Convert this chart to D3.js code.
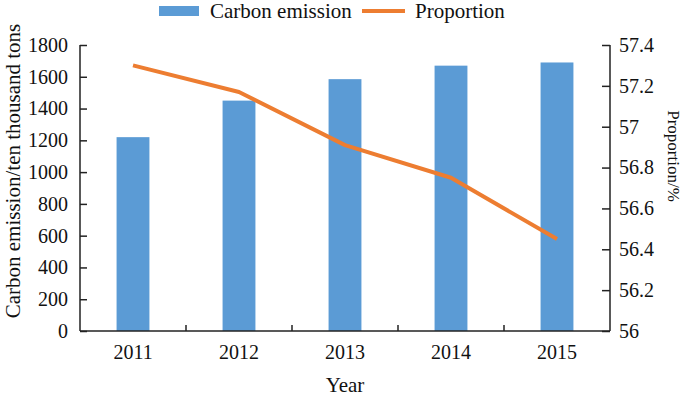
<!DOCTYPE html>
<html><head><meta charset="utf-8">
<script src="https://cdn.jsdelivr.net/npm/d3@7"></script>
<style>body{margin:0;background:#fff}text{font-family:"Liberation Serif","Times New Roman",serif;fill:#111}</style>
</head><body><svg id="c" width="685" height="396"></svg>
<script>
const years = ["2011","2012","2013","2014","2015"];
const emission = [1220, 1450, 1585, 1670, 1690];
const proportion = [57.30, 57.17, 56.91, 56.75, 56.45];
const leftTicks = [0,200,400,600,800,1000,1200,1400,1600,1800];
const rightTicks = [56,56.2,56.4,56.6,56.8,57,57.2,57.4];

const svg = d3.select("#c");
const L = 80, R = 610, T = 45, B = 331;
const x = d3.scaleBand().domain(years).range([L, R]).paddingInner(0.69).paddingOuter(0.345);
const xb = d3.scaleBand().domain(years).range([L, R]);
const y = d3.scaleLinear().domain([0,1800]).range([B, T]);
const y2 = d3.scaleLinear().domain([56,57.4]).range([B, T]);

svg.selectAll("rect.bar").data(emission).join("rect").attr("class","bar")
  .attr("x",(d,i)=>x(years[i])).attr("width",x.bandwidth())
  .attr("y",d=>y(d)).attr("height",d=>B-y(d)).attr("fill","#5B9BD5");

const line = d3.line().x((d,i)=>xb(years[i])+xb.bandwidth()/2).y(d=>y2(d));
svg.append("path").datum(proportion).attr("d",line).attr("fill","none")
  .attr("stroke","#ED7D31").attr("stroke-width",4).attr("stroke-linejoin","round");

const fs = 20;
const gl = svg.append("g").attr("transform",`translate(${L},0)`)
  .call(d3.axisLeft(y).tickValues(leftTicks).tickSize(-7).tickPadding(12).tickFormat(d3.format("d")));
const gr = svg.append("g").attr("transform",`translate(${R},0)`)
  .call(d3.axisRight(y2).tickValues(rightTicks).tickSize(-8).tickPadding(9).tickFormat(d=>String(+d.toFixed(1))));
const gb = svg.append("g").attr("transform",`translate(0,${B})`)
  .call(d3.axisBottom(xb).tickSize(0).tickPadding(14));
svg.selectAll("line.bt").data(years.slice(1)).join("line").attr("class","bt")
  .attr("x1",d=>xb(d)).attr("x2",d=>xb(d)).attr("y1",B).attr("y2",B-6)
  .attr("stroke","#222").attr("stroke-width",1.5);

[gl,gr,gb].forEach(g=>{
  g.attr("font-size",null).attr("font-family",null);
  g.selectAll("path.domain").attr("stroke","#222").attr("stroke-width",1.5);
  g.selectAll(".tick line").attr("stroke","#222").attr("stroke-width",1.5);
  g.selectAll(".tick text").style("font-family",'"Liberation Serif",serif').style("font-size",fs+"px").attr("fill","#111");
});
gl.select("path.domain").attr("d",`M0,${T}V${B}`);
gr.select("path.domain").attr("d",`M0,${T}V${B}`);
gb.select("path.domain").attr("d",`M${L},0H${R}`);

svg.append("text").attr("transform",`translate(19.5,171) rotate(-90)`)
  .attr("text-anchor","middle").style("font-size","21px").text("Carbon emission/ten thousand tons");
svg.append("text").attr("transform",`translate(668,156) rotate(90)`)
  .attr("text-anchor","middle").style("font-size","17px").text("Proportion/%");
svg.append("text").attr("x",345).attr("y",392).attr("text-anchor","middle").style("font-size","21px").text("Year");

svg.append("rect").attr("x",159).attr("y",6).attr("width",40).attr("height",10).attr("fill","#5B9BD5");
svg.append("text").attr("x",210).attr("y",18).style("font-size","21px").text("Carbon emission");
svg.append("line").attr("x1",362).attr("x2",405).attr("y1",11).attr("y2",11).attr("stroke","#ED7D31").attr("stroke-width",4);
svg.append("text").attr("x",415).attr("y",18).style("font-size","21px").text("Proportion");
</script></body></html>
